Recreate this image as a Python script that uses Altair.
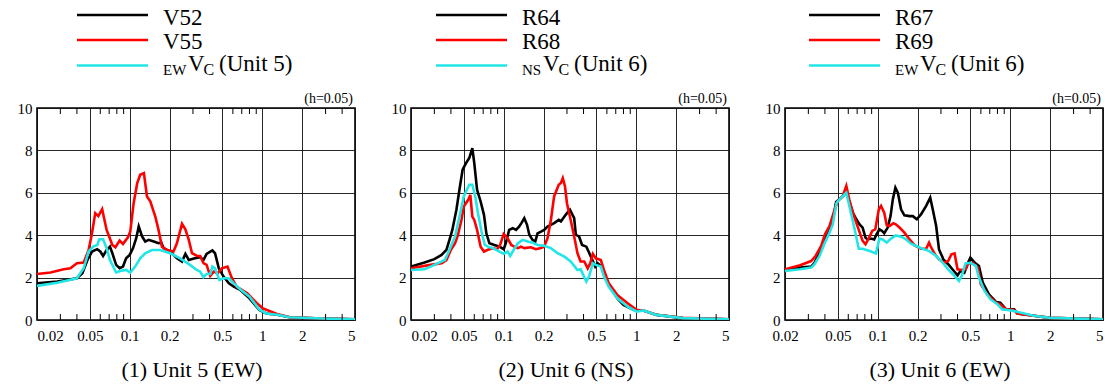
import altair as alt
import pandas as pd

FONT = "Liberation Serif"
W, H = 318, 212

# ---------------- data (period T [s], value) ----------------
# Panel 1: Unit 5 (EW)
P1_V52_T = [0.02, 0.0284, 0.04, 0.044, 0.048, 0.052, 0.0568, 0.06, 0.063, 0.067, 0.071, 0.074, 0.079, 0.084, 0.089, 0.094, 0.1, 0.106, 0.112, 0.117, 0.124, 0.131, 0.139, 0.152, 0.165, 0.173, 0.18, 0.202, 0.227, 0.248, 0.263, 0.279, 0.31, 0.34, 0.36, 0.38, 0.42, 0.44, 0.47, 0.51, 0.56, 0.61, 0.68, 0.80, 0.95, 1.07, 1.3, 1.6, 2.5, 5.0]
P1_V52_V = [1.73, 1.81, 1.97, 2.2, 2.83, 3.23, 3.34, 3.23, 3.02, 3.3, 3.46, 3.15, 2.6, 2.44, 2.52, 2.91, 3.07, 3.39, 3.86, 4.41, 3.94, 3.7, 3.78, 3.7, 3.62, 3.65, 3.39, 3.23, 2.91, 2.76, 3.12, 2.83, 2.91, 2.96, 2.83, 3.12, 3.28, 3.15, 2.44, 2.05, 1.73, 1.57, 1.42, 1.02, 0.47, 0.31, 0.25, 0.13, 0.08, 0.03]
P1_V55_T = [0.02, 0.0253, 0.0318, 0.0357, 0.04, 0.045, 0.049, 0.052, 0.055, 0.058, 0.062, 0.067, 0.074, 0.078, 0.084, 0.089, 0.097, 0.101, 0.107, 0.114, 0.120, 0.128, 0.135, 0.143, 0.156, 0.165, 0.175, 0.191, 0.214, 0.227, 0.248, 0.263, 0.279, 0.295, 0.322, 0.34, 0.36, 0.38, 0.405, 0.43, 0.46, 0.495, 0.546, 0.59, 0.64, 0.77, 0.91, 1.01, 1.29, 1.62, 2.57, 5.0]
P1_V55_V = [2.17, 2.24, 2.39, 2.44, 2.68, 2.71, 3.3, 4.1, 5.04, 4.9, 5.23, 4.25, 3.54, 3.43, 3.75, 3.59, 3.9, 4.17, 5.5, 6.46, 6.85, 6.93, 5.83, 5.6, 4.88, 4.25, 3.46, 3.3, 3.23, 3.62, 4.54, 4.28, 3.78, 3.15, 3.02, 3.02, 2.68, 2.6, 2.08, 2.28, 2.2, 2.44, 2.52, 1.97, 1.57, 1.26, 0.79, 0.55, 0.28, 0.13, 0.08, 0.03]
P1_VC_T = [0.02, 0.0284, 0.04, 0.045, 0.049, 0.053, 0.057, 0.059, 0.063, 0.067, 0.071, 0.079, 0.087, 0.094, 0.101, 0.11, 0.12, 0.131, 0.147, 0.17, 0.202, 0.24, 0.285, 0.32, 0.34, 0.36, 0.38, 0.405, 0.42, 0.44, 0.475, 0.51, 0.56, 0.61, 0.68, 0.80, 0.95, 1.07, 1.3, 1.6, 2.5, 5.0]
P1_VC_V = [1.61, 1.76, 1.97, 2.44, 3.23, 3.46, 3.54, 3.81, 3.81, 3.39, 2.83, 2.24, 2.33, 2.36, 2.24, 2.52, 2.91, 3.15, 3.3, 3.3, 3.15, 2.91, 2.6, 2.36, 2.28, 2.02, 2.17, 2.17, 2.52, 2.44, 1.89, 1.97, 1.97, 1.73, 1.45, 1.1, 0.5, 0.31, 0.25, 0.13, 0.08, 0.03]

# Panel 2: Unit 6 (NS)
P2_R64_T = [0.02, 0.0253, 0.03, 0.034, 0.037, 0.039, 0.041, 0.044, 0.047, 0.049, 0.052, 0.055, 0.058, 0.06, 0.063, 0.067, 0.071, 0.074, 0.078, 0.085, 0.093, 0.1, 0.104, 0.11, 0.117, 0.124, 0.131, 0.136, 0.143, 0.15, 0.156, 0.165, 0.173, 0.18, 0.191, 0.202, 0.214, 0.227, 0.24, 0.26, 0.27, 0.287, 0.3, 0.316, 0.34, 0.35, 0.37, 0.39, 0.42, 0.44, 0.46, 0.49, 0.51, 0.545, 0.57, 0.62, 0.72, 0.80, 0.96, 1.01, 1.13, 1.42, 2.25, 5.0]
P2_R64_V = [2.52, 2.71, 2.87, 3.07, 3.31, 3.78, 4.25, 5.2, 6.38, 7.09, 7.4, 7.64, 8.11, 7.4, 6.14, 5.59, 4.96, 4.09, 3.62, 3.54, 3.46, 3.34, 3.65, 4.25, 4.33, 4.25, 4.41, 4.57, 4.8, 4.49, 4.02, 3.78, 3.7, 4.09, 4.17, 4.25, 4.41, 4.49, 4.57, 4.72, 4.65, 4.88, 5.04, 5.2, 4.8, 4.02, 3.94, 3.54, 3.46, 3.18, 2.91, 2.52, 2.68, 2.52, 2.2, 1.65, 1.02, 0.71, 0.47, 0.47, 0.45, 0.24, 0.09, 0.03]
P2_R68_T = [0.02, 0.028, 0.034, 0.037, 0.04, 0.043, 0.045, 0.048, 0.05, 0.054, 0.056, 0.058, 0.06, 0.063, 0.067, 0.071, 0.076, 0.083, 0.089, 0.094, 0.1, 0.107, 0.114, 0.12, 0.128, 0.135, 0.143, 0.16, 0.175, 0.191, 0.202, 0.214, 0.227, 0.24, 0.26, 0.27, 0.279, 0.29, 0.3, 0.32, 0.34, 0.36, 0.38, 0.405, 0.43, 0.45, 0.47, 0.495, 0.54, 0.57, 0.62, 0.72, 0.86, 1.01, 1.13, 1.42, 2.25, 5.0]
P2_R68_V = [2.44, 2.6, 2.68, 2.83, 3.31, 3.62, 3.97, 4.72, 5.35, 5.67, 5.9, 4.88, 4.72, 4.25, 3.46, 3.23, 3.31, 3.39, 3.34, 3.54, 4.06, 3.86, 3.54, 3.46, 3.39, 3.46, 3.39, 3.43, 3.34, 3.39, 3.46, 3.86, 4.72, 5.83, 6.38, 6.46, 6.69, 6.3, 5.51, 4.72, 3.94, 3.15, 2.76, 2.76, 2.44, 2.68, 3.12, 2.91, 2.83, 2.36, 1.73, 1.18, 0.79, 0.47, 0.45, 0.25, 0.1, 0.03]
P2_VC_T = [0.02, 0.0253, 0.03, 0.036, 0.039, 0.043, 0.047, 0.05, 0.055, 0.058, 0.061, 0.064, 0.068, 0.072, 0.076, 0.083, 0.089, 0.1, 0.107, 0.112, 0.119, 0.128, 0.139, 0.152, 0.165, 0.18, 0.202, 0.227, 0.255, 0.287, 0.32, 0.36, 0.38, 0.42, 0.44, 0.47, 0.495, 0.54, 0.57, 0.62, 0.72, 0.86, 1.01, 1.13, 1.42, 2.25, 5.0]
P2_VC_V = [2.36, 2.39, 2.6, 2.83, 3.31, 3.94, 5.04, 5.83, 6.38, 6.38, 5.83, 5.04, 4.17, 3.54, 3.46, 3.39, 3.28, 3.12, 3.23, 3.02, 3.31, 3.62, 3.78, 3.7, 3.65, 3.54, 3.5, 3.39, 3.15, 2.99, 2.76, 2.36, 2.39, 1.81, 2.05, 2.68, 2.6, 2.52, 2.05, 1.57, 1.02, 0.63, 0.39, 0.45, 0.24, 0.09, 0.03]

# Panel 3: Unit 6 (EW)
P3_R67_T = [0.02, 0.026, 0.0315, 0.0334, 0.0364, 0.04, 0.0433, 0.0458, 0.0486, 0.053, 0.058, 0.061, 0.065, 0.069, 0.073, 0.077, 0.081, 0.084, 0.089, 0.094, 0.098, 0.103, 0.108, 0.112, 0.119, 0.125, 0.13, 0.136, 0.142, 0.15, 0.159, 0.174, 0.184, 0.197, 0.212, 0.232, 0.249, 0.26, 0.276, 0.29, 0.313, 0.34, 0.37, 0.4, 0.42, 0.45, 0.48, 0.5, 0.54, 0.58, 0.62, 0.69, 0.78, 0.84, 0.93, 1.01, 1.07, 1.13, 1.5, 2.0, 5.0]
P3_R67_V = [2.36, 2.47, 2.52, 2.7, 3.18, 3.8, 4.2, 4.67, 5.57, 5.77, 6.0, 5.61, 5.06, 4.75, 4.51, 4.36, 3.88, 3.8, 3.84, 3.8, 4.04, 4.28, 4.2, 4.09, 4.36, 4.9, 5.69, 6.24, 6.0, 5.22, 4.94, 4.9, 4.9, 4.75, 4.98, 5.38, 5.77, 5.22, 4.43, 3.33, 2.86, 2.63, 2.36, 2.11, 2.31, 2.23, 2.7, 2.94, 2.7, 2.55, 1.76, 1.21, 0.85, 0.82, 0.5, 0.5, 0.5, 0.31, 0.2, 0.1, 0.03]
P3_R69_T = [0.02, 0.026, 0.0315, 0.034, 0.0375, 0.04, 0.0433, 0.047, 0.05, 0.0545, 0.058, 0.061, 0.065, 0.071, 0.077, 0.081, 0.086, 0.091, 0.096, 0.102, 0.106, 0.112, 0.117, 0.123, 0.131, 0.137, 0.146, 0.159, 0.174, 0.19, 0.212, 0.232, 0.244, 0.25, 0.27, 0.29, 0.317, 0.34, 0.36, 0.38, 0.4, 0.43, 0.46, 0.48, 0.52, 0.57, 0.6, 0.67, 0.78, 0.84, 0.93, 1.07, 1.13, 1.5, 2.0, 5.0]
P3_R69_V = [2.39, 2.58, 2.78, 3.02, 3.49, 4.04, 4.43, 5.14, 5.61, 5.85, 6.32, 5.69, 5.06, 4.36, 3.73, 3.57, 3.88, 4.2, 4.28, 5.22, 5.38, 5.06, 4.47, 4.43, 4.56, 4.51, 4.36, 4.12, 3.8, 3.52, 3.36, 3.36, 3.65, 3.49, 3.1, 2.86, 2.7, 2.78, 3.1, 3.14, 2.39, 2.36, 2.39, 2.67, 2.7, 2.47, 1.68, 1.21, 0.82, 0.74, 0.5, 0.47, 0.31, 0.2, 0.1, 0.03]
P3_VC_T = [0.02, 0.026, 0.0315, 0.0334, 0.0364, 0.04, 0.0433, 0.0458, 0.049, 0.053, 0.058, 0.062, 0.067, 0.072, 0.077, 0.087, 0.097, 0.103, 0.109, 0.117, 0.126, 0.137, 0.15, 0.164, 0.178, 0.195, 0.218, 0.245, 0.276, 0.31, 0.34, 0.38, 0.41, 0.43, 0.46, 0.5, 0.55, 0.58, 0.64, 0.71, 0.8, 0.87, 0.96, 1.07, 1.5, 2.0, 5.0]
P3_VC_V = [2.31, 2.39, 2.47, 2.63, 3.02, 3.65, 4.12, 4.51, 5.53, 5.77, 6.0, 5.22, 4.28, 3.36, 3.36, 3.25, 3.14, 3.84, 3.8, 3.65, 3.84, 3.99, 3.93, 3.8, 3.6, 3.49, 3.36, 3.25, 3.02, 2.7, 2.39, 2.08, 1.84, 2.08, 2.67, 2.7, 2.55, 2.0, 1.37, 0.97, 0.74, 0.5, 0.47, 0.42, 0.2, 0.1, 0.03]

X_TICKS = [0.02, 0.05, 0.1, 0.2, 0.5, 1, 2, 5]
Y_TICKS = [0, 2, 4, 6, 8, 10]
MINOR_TICKS = [0.03, 0.04, 0.06, 0.07, 0.08, 0.09, 0.3, 0.4, 0.6, 0.7, 0.8, 0.9, 3, 4]
COLORS = ["#000000", "#ff0000", "#22e6e6"]
TITLES = ["(1) Unit 5 (EW)", "(2) Unit 6 (NS)", "(3) Unit 6 (EW)"]
NAMES = [["V52", "V55"], ["R64", "R68"], ["R67", "R69"]]
VC_SUB = ["EW", "NS", "EW"]
VC_UNIT = ["(Unit 5)", "(Unit 6)", "(Unit 6)"]
H_NOTE = "(h=0.05)"


def one(text):
    return pd.DataFrame({"t": [text]})


def txt_layer(text, fs, x, y, align="left"):
    return (alt.Chart(one(text))
            .mark_text(font=FONT, fontSize=fs, align=align, baseline="alphabetic",
                       color="black")
            .encode(text="t:N", x=alt.value(x), y=alt.value(y)))


def panel(series, idx, leg_x0, text_x, sub_w, last=False):
    xaxis = dict(values=X_TICKS, format="~g", grid=True, ticks=False, domain=False,
                 title=None, labelPadding=8, labelFont=FONT, labelFontSize=15)
    if last:
        xaxis["labelAlign"] = {"condition": {"test": "datum.value == 5", "value": "right"},
                               "value": "center"}
    X = alt.X("T:Q", scale=alt.Scale(type="log", domain=[0.02, 5], nice=False),
              axis=alt.Axis(**xaxis))
    Y = alt.Y("V:Q", scale=alt.Scale(domain=[0, 10], nice=False),
              axis=alt.Axis(values=Y_TICKS, grid=True, ticks=False, domain=False,
                            title=None, labelPadding=5, labelFont=FONT, labelFontSize=15))
    layers = []
    for (T, V), c in zip(series, COLORS):
        df = pd.DataFrame({"T": T, "V": V})
        layers.append(alt.Chart(df).mark_line(color=c, strokeWidth=2.6, clip=True)
                      .encode(x=X, y=Y))
    mt = pd.DataFrame({"T": MINOR_TICKS})
    layers.append(alt.Chart(mt).mark_rule(color="black", strokeWidth=1)
                  .encode(x=alt.X("T:Q"), y=alt.value(H), y2=alt.value(H - 6)))
    layers.append(alt.Chart(mt).mark_rule(color="black", strokeWidth=1)
                  .encode(x=alt.X("T:Q"), y=alt.value(0), y2=alt.value(6)))

    # legend
    line_y = [-93, -68, -42.5]
    text_y = [-83, -59.5, -37.5]
    for i, c in enumerate(COLORS):
        layers.append(alt.Chart(one(c)).mark_rule(color=c, strokeWidth=2.5)
                      .encode(x=alt.value(leg_x0), x2=alt.value(leg_x0 + 71),
                              y=alt.value(line_y[i])))
    for i in range(2):
        layers.append(txt_layer(NAMES[idx][i], 23, text_x, text_y[i]))
    parts = [(VC_SUB[idx], 15, 0, -33.5), ("V", 23, sub_w, text_y[2]),
             ("C", 16, sub_w + 15.5, -33.5), (VC_UNIT[idx], 23, sub_w + 31, text_y[2])]
    for t, fs, dx, yy in parts:
        layers.append(txt_layer(t, fs, text_x + dx, yy))
    layers.append(txt_layer(H_NOTE, 14, W - 2, -5, align="right"))
    layers.append(txt_layer(TITLES[idx], 22, W / 2 - 4, H + 57, align="center"))
    return alt.layer(*layers).properties(width=W, height=H)


p1 = panel([(P1_V52_T, P1_V52_V), (P1_V55_T, P1_V55_V), (P1_VC_T, P1_VC_V)], 0, 40, 126, 25)
p2 = panel([(P2_R64_T, P2_R64_V), (P2_R68_T, P2_R68_V), (P2_VC_T, P2_VC_V)], 1, 25, 111, 21)
p3 = panel([(P3_R67_T, P3_R67_V), (P3_R69_T, P3_R69_V), (P3_VC_T, P3_VC_V)], 2, 24, 110, 25,
           last=True)

chart = (alt.hconcat(p1, p2, p3, spacing=56, bounds="flush")
         .properties(padding={"left": 16, "top": 6, "right": 0, "bottom": 0},
                     background="white")
         .configure_view(stroke="black", strokeWidth=1.6)
         .configure_axis(labelColor="black",
                         gridColor="#111111", gridWidth=1, gridOpacity=0.9))

chart.save("out.html", embed_options={"renderer": "svg", "actions": False})
